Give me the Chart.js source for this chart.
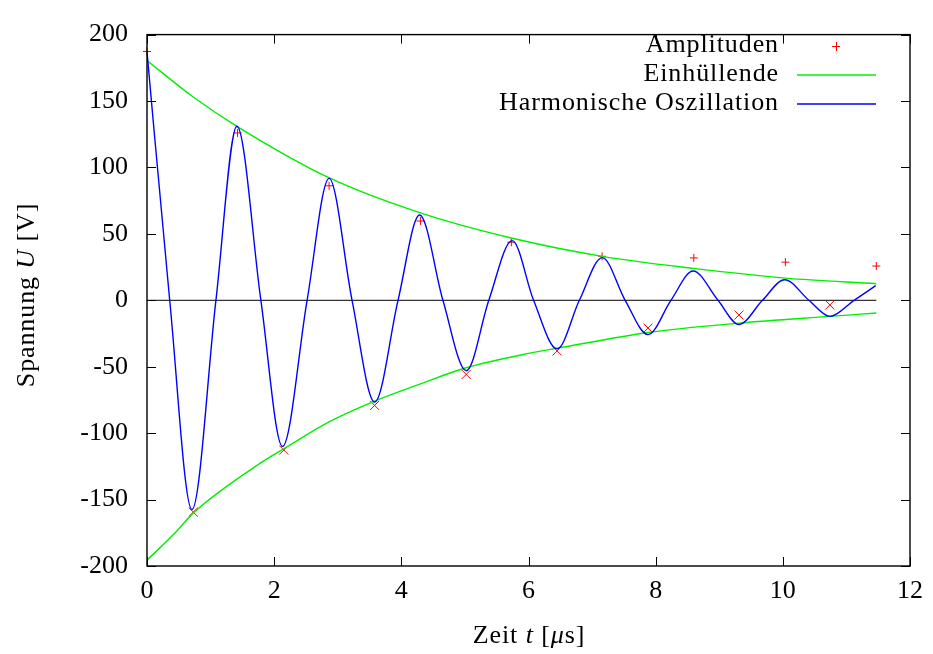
<!DOCTYPE html>
<html>
<head>
<meta charset="utf-8">
<title>Gedämpfte Schwingung</title>
<script src="https://cdn.jsdelivr.net/npm/chart.js@4.4.1/dist/chart.umd.min.js"></script>
<style>
    html, body { margin: 0; padding: 0; background: #fff; }
    canvas { display: block; }
</style>
</head>
<body>
<canvas id="chart" width="933" height="654"></canvas>
<script>
// --- Daten ---
const xTicks = [0, 2, 4, 6, 8, 10, 12];
const yTicks = [-200, -150, -100, -50, 0, 50, 100, 150, 200];

// Amplituden: Maxima (+) und Minima (x)
const maxT = [0, 1.424, 2.864, 4.30, 5.73, 7.157, 8.60, 10.04, 11.47];
const maxU = [187.3, 126, 86.2, 59.7, 43.7, 33.1, 31.9, 28.7, 25.8];
const minT = [0.728, 2.152, 3.58, 5.02, 6.45, 7.88, 9.31, 10.74];
const minU = [-159.4, -112.7, -79.1, -55.8, -38.1, -20.9, -11.1, -3.5];

// Einhüllende oben / unten
const obenT = [0, 0.727, 1.42, 2.86, 4.30, 5.73, 7.16, 8.60, 10.04, 11.47];
const obenU = [180.5, 153, 130.8, 92.3, 65.8, 46.9, 33.1, 24, 16.7, 12.5];
const untenT = [0, 0.47, 0.73, 1.80, 2.15, 2.87, 3.58, 4.29, 5.02, 6.02, 6.45, 7.88, 9.31, 10.74, 11.47];
const untenU = [-195.7, -173.6, -160, -122, -111.8, -91.4, -75.9, -63.1, -50.8, -39.8, -36.1, -24.2, -17.2, -12.1, -9.6];

// Harmonische Oszillation: Startwert, Extrema und Nulldurchgänge
const oszT = [0, 0.357, 0.707, 1.084, 1.414, 1.791, 2.131, 2.518, 2.864, 3.225, 3.581, 3.948, 4.288,
    4.654, 5.021, 5.376, 5.743, 6.08, 6.45, 6.80, 7.16, 7.52, 7.88, 8.24, 8.59, 8.98, 9.31, 9.68,
    10.03, 10.41, 10.74, 11.12, 11.46];
const oszU = [187, 0, -157.6, 0, 131, 0, -110, 0, 91.8, 0, -76.6, 0, 64.2,
    0, -53, 0, 44.9, 0, -36.6, 0, 32.1, 0, -25.8, 0, 22.1, 0, -18.2, 0,
    15.5, 0, -12.1, 0, 11.0];

const nullT = [0, 11.47];
const nullU = [0, 0];

const schrift = '"Liberation Serif", "DejaVu Serif", serif';
const groesse = 26;

function punkte(ts, us) {
    return ts.map((t, i) => ({ x: t, y: us[i] }));
}

// Text mit kursiven Teilen zeichnen: teile = [[text, kursiv], ...]
function zeichneText(ctx, teile, x, y, ausrichtung) {
    const fonts = teile.map(t => (t[1] ? 'italic ' : '') + groesse + 'px ' + schrift);
    ctx.letterSpacing = '0.9px';
    let breite = 0;
    teile.forEach((t, i) => { ctx.font = fonts[i]; breite += ctx.measureText(t[0]).width; });
    let start = x;
    if (ausrichtung === 'center') start = x - breite / 2;
    if (ausrichtung === 'right') start = x - breite;
    ctx.textAlign = 'left';
    ctx.textBaseline = 'middle';
    teile.forEach((t, i) => {
        ctx.font = fonts[i];
        ctx.fillText(t[0], start, y);
        start += ctx.measureText(t[0]).width;
    });
    ctx.letterSpacing = '0px';
}

const rahmenPlugin = {
    id: 'rahmen',
    afterDraw(chart) {
        const { ctx, chartArea: a, scales } = chart;
        const sx = scales.x, sy = scales.y;
        ctx.save();
        ctx.strokeStyle = '#000';
        ctx.lineWidth = 1.4;
        ctx.strokeRect(a.left, a.top, a.right - a.left, a.bottom - a.top);

        // Ticks nach innen, auf allen Seiten
        ctx.lineWidth = 1;
        ctx.beginPath();
        xTicks.forEach(v => {
            const px = Math.round(sx.getPixelForValue(v)) + 0.5;
            ctx.moveTo(px, a.bottom); ctx.lineTo(px, a.bottom - 9);
            ctx.moveTo(px, a.top); ctx.lineTo(px, a.top + 9);
        });
        yTicks.forEach(v => {
            const py = Math.round(sy.getPixelForValue(v)) + 0.5;
            ctx.moveTo(a.left, py); ctx.lineTo(a.left + 9, py);
            ctx.moveTo(a.right, py); ctx.lineTo(a.right - 9, py);
        });
        ctx.stroke();

        // Achsenbeschriftungen
        ctx.fillStyle = '#000';
        zeichneText(ctx, [['Zeit ', false], ['t', true], [' [', false], ['μ', true], ['s]', false]], 529, 636, 'center');
        ctx.save();
        ctx.translate(27, 295);
        ctx.rotate(-Math.PI / 2);
        zeichneText(ctx, [['Spannung ', false], ['U', true], [' [V]', false]], 0, 0, 'center');
        ctx.restore();

        // Legende
        zeichneText(ctx, [['Amplituden', false]], 779, 45, 'right');
        zeichneText(ctx, [['Einhüllende', false]], 779, 74, 'right');
        zeichneText(ctx, [['Harmonische Oszillation', false]], 779, 103, 'right');
        ctx.strokeStyle = '#ff0000';
        ctx.lineWidth = 1;
        ctx.beginPath();
        ctx.moveTo(832, 46.5); ctx.lineTo(840, 46.5);
        ctx.moveTo(836.5, 42); ctx.lineTo(836.5, 51);
        ctx.stroke();
        ctx.lineWidth = 1.3;
        ctx.strokeStyle = '#00f000';
        ctx.beginPath(); ctx.moveTo(797, 75); ctx.lineTo(876, 75); ctx.stroke();
        ctx.strokeStyle = '#0000ff';
        ctx.beginPath(); ctx.moveTo(797, 104); ctx.lineTo(876, 104); ctx.stroke();
        ctx.restore();
    }
};

const linie = (daten, farbe, breite) => ({
    data: daten,
    borderColor: farbe,
    borderWidth: breite,
    pointRadius: 0,
    fill: false,
    cubicInterpolationMode: 'monotone'
});

new Chart(document.getElementById('chart').getContext('2d'), {
    type: 'line',
    data: {
        datasets: [
            linie(punkte(oszT, oszU), '#0000ff', 1.4),
            linie(punkte(obenT, obenU), '#00f000', 1.4),
            linie(punkte(untenT, untenU), '#00f000', 1.4),
            {
                data: punkte(maxT, maxU),
                showLine: false,
                pointStyle: 'cross',
                pointRadius: 4,
                borderColor: '#ff0000',
                borderWidth: 1,
                clip: false
            },
            {
                data: punkte(minT, minU),
                showLine: false,
                pointStyle: 'crossRot',
                pointRadius: 6.4,
                borderColor: '#ff0000',
                borderWidth: 1,
                clip: false
            },
            { data: punkte(nullT, nullU), borderColor: '#000', borderWidth: 1, pointRadius: 0, tension: 0 }
        ]
    },
    options: {
        responsive: false,
        animation: false,
        events: [],
        layout: { padding: { top: 23, right: 22, left: 0, bottom: 0 } },
        plugins: {
            legend: { display: false },
            tooltip: { enabled: false }
        },
        scales: {
            x: {
                type: 'linear',
                min: 0,
                max: 12,
                afterFit: s => { s.height = 88; },
                afterBuildTicks: s => { s.ticks = xTicks.map(v => ({ value: v })); },
                grid: { display: false, drawTicks: false },
                border: { display: false },
                ticks: {
                    padding: 10,
                    color: '#000',
                    maxRotation: 0,
                    autoSkip: false,
                    font: { family: schrift, size: groesse },
                    callback: v => String(v)
                }
            },
            y: {
                type: 'linear',
                min: -200,
                max: 200,
                afterFit: s => { s.width = 147; },
                afterBuildTicks: s => { s.ticks = yTicks.map(v => ({ value: v })); },
                grid: { display: false, drawTicks: false },
                border: { display: false },
                ticks: {
                    padding: 19,
                    color: '#000',
                    autoSkip: false,
                    font: { family: schrift, size: groesse },
                    callback: v => String(v)
                }
            }
        }
    },
    plugins: [rahmenPlugin]
});
</script>
</body>
</html>
